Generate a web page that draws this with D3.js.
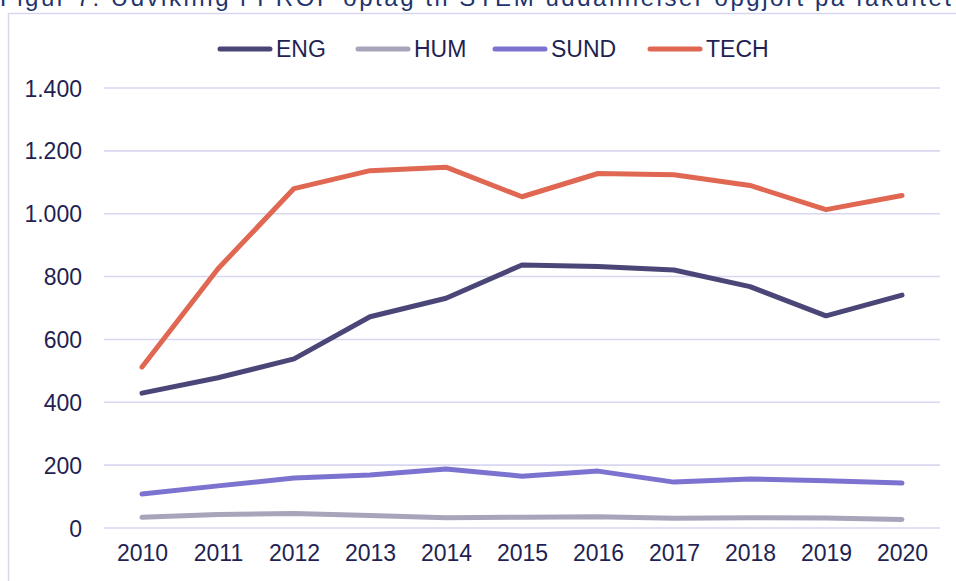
<!DOCTYPE html>
<html><head><meta charset="utf-8">
<script src="https://cdn.jsdelivr.net/npm/d3@7"></script>
<style>html,body{margin:0;padding:0;background:#fff;}svg{display:block;}</style>
</head><body>
<script>
const title = "Figur 7: Udvikling i PROF optag til STEM uddannelser opgjort på fakultet";
const years = ["2010","2011","2012","2013","2014","2015","2016","2017","2018","2019","2020"];
const seriesNames = ["ENG","HUM","SUND","TECH"];
const ENG  = [429, 478, 538, 672, 731, 837, 832, 821, 768, 675, 741];
const HUM  = [34, 43, 46, 40, 33, 34, 36, 31, 33, 32, 27];
const SUND = [108, 134, 159, 169, 188, 165, 181, 146, 156, 150, 143];
const TECH = [512, 825, 1080, 1137, 1148, 1054, 1128, 1124, 1090, 1013, 1058];
const yTicks = [0, 200, 400, 600, 800, 1000, 1200, 1400];
const colors = {ENG:"#4b4678", HUM:"#a8a4ba", SUND:"#7b73cf", TECH:"#e06752"};
const data = {ENG, HUM, SUND, TECH};

const W = 956, H = 581;
const svg = d3.select("body").append("svg").attr("width", W).attr("height", H);
const font = "'Liberation Sans', Arial, sans-serif";
const textCol = "#231f52";
const fs = 23;

// title (clipped at top, as in the reference)
svg.append("text").attr("x", 0).attr("y", 6)
  .attr("font-family", font).attr("font-size", 24).attr("fill", "#22346c")
  .attr("textLength", 951).attr("lengthAdjust", "spacing")
  .text(title);

// frame
svg.append("rect").attr("x", 8.5).attr("y", 13.5).attr("width", 960).attr("height", 600)
  .attr("fill", "none").attr("stroke", "#d8d6ef").attr("stroke-width", 1.5);

const x = d3.scalePoint().domain(years).range([104, 940]).padding(0.5);
const y = d3.scaleLinear().domain([0, 1400]).range([528, 88]);

// gridlines
svg.append("g").selectAll("line").data(yTicks).join("line")
  .attr("x1", 104).attr("x2", 940)
  .attr("y1", d => y(d)).attr("y2", d => y(d))
  .attr("stroke", "#d9d6f0").attr("stroke-width", 1.6);

// y axis
const yAxis = svg.append("g").attr("transform", "translate(82,0)")
  .call(d3.axisLeft(y).tickValues(yTicks).tickSize(0).tickPadding(0)
    .tickFormat(d => d3.format(",")(d).replace(/,/g, ".")));
yAxis.select(".domain").remove();
yAxis.selectAll("text").attr("font-family", font).attr("font-size", fs).attr("fill", textCol).attr("dy", "0.35em");

// x axis
const xAxis = svg.append("g").attr("transform", "translate(0,544)")
  .call(d3.axisBottom(x).tickSize(0).tickPadding(0));
xAxis.select(".domain").remove();
xAxis.selectAll("text").attr("font-family", font).attr("font-size", fs).attr("fill", textCol).attr("dy", "0.75em");

// lines
const line = d3.line().x((d, i) => x(years[i])).y(d => y(d));
seriesNames.forEach(s => {
  svg.append("path").datum(data[s]).attr("d", line)
    .attr("fill", "none").attr("stroke", colors[s]).attr("stroke-width", 5)
    .attr("stroke-linejoin", "round").attr("stroke-linecap", "round");
});

// legend
const legX = [218, 356, 493, 648];
const leg = svg.append("g");
seriesNames.forEach((s, i) => {
  leg.append("line").attr("x1", legX[i] + 2).attr("x2", legX[i] + 52)
    .attr("y1", 49).attr("y2", 49)
    .attr("stroke", colors[s]).attr("stroke-width", 5).attr("stroke-linecap", "round");
  leg.append("text").attr("x", legX[i] + 58).attr("y", 49).attr("dy", "0.36em")
    .attr("font-family", font).attr("font-size", fs).attr("fill", textCol).text(s);
});
</script>
</body></html>
